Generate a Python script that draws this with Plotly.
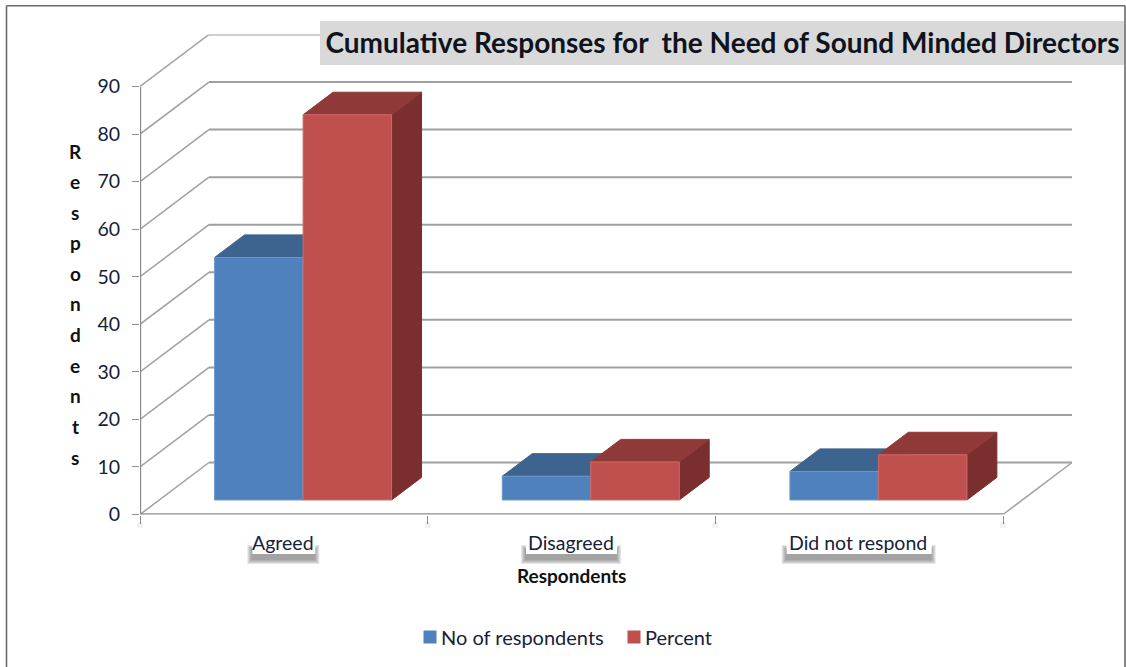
import plotly.graph_objects as go

# Chart data
categories = ["Agreed", "Disagreed", "Did not respond"]
no_of_respondents = [51, 5, 6]
percent = [81, 8, 9.5]
value_ticks = list(range(0, 100, 10))
series_names = ["No of respondents", "Percent"]
chart_title = "Cumulative Responses for\u00a0\u00a0the Need of Sound Minded Directors"
axis_title = "Respondents"

# Page and plot geometry, in pixels
W, H = 1126, 667
LEFT, BASE, TOP90 = 140.0, 514.5, 86.5
CAT_PX = 287.67
PX_PER_UNIT = (BASE - TOP90) / 90.0

# Oblique projection of the depth axis, in axis units
DEPTH_X = 69.0 / CAT_PX
DEPTH_Y = 52.0 / PX_PER_UNIT
BAR_FRONT, BAR_BACK = 0.279, 0.713
BAR_W = 88.5 / CAT_PX

X_MAX = 3 + DEPTH_X
Y_MAX = 90 + DEPTH_Y
RIGHT = LEFT + X_MAX * CAT_PX
TOP = BASE - Y_MAX * PX_PER_UNIT


def project(x, v, d):
    return x + d * DEPTH_X, v + d * DEPTH_Y


def polygon(points):
    xs, ys = [], []
    for x, v, d in points + points[:1]:
        px_, py_ = project(x, v, d)
        xs.append(px_)
        ys.append(py_)
    return xs + [None], ys + [None]


def box_faces(values, offset):
    """Front, top and right faces of a series of bars, as gap-separated polygons."""
    faces = {"front": ([], []), "top": ([], []), "right": ([], [])}
    for i, v in enumerate(values):
        x0 = i + 0.5 + offset * BAR_W
        x1 = x0 + BAR_W
        quads = {
            "front": [(x0, 0, BAR_FRONT), (x1, 0, BAR_FRONT), (x1, v, BAR_FRONT), (x0, v, BAR_FRONT)],
            "top": [(x0, v, BAR_FRONT), (x1, v, BAR_FRONT), (x1, v, BAR_BACK), (x0, v, BAR_BACK)],
            "right": [(x1, 0, BAR_FRONT), (x1, 0, BAR_BACK), (x1, v, BAR_BACK), (x1, v, BAR_FRONT)],
        }
        for name, quad in quads.items():
            xs, ys = polygon(quad)
            faces[name][0].extend(xs)
            faces[name][1].extend(ys)
    return faces


fig = go.Figure()

GRID = "#a0a0a0"
AXIS = "#8d8d8d"
TEXT = "#16213a"
FONT = "Lato, Carlito, 'Open Sans', sans-serif"


def add_line(xs, ys, color=GRID, width=2.0):
    fig.add_trace(go.Scatter(x=xs, y=ys, mode="lines", line=dict(color=color, width=width),
                             cliponaxis=False, showlegend=False, hoverinfo="skip"))


# Back wall rules and the diagonals running along the side wall
wall_x, wall_y, side_x, side_y = [], [], [], []
for v in value_ticks:
    bx0, by = project(0, v, 1)
    bx1, _ = project(3, v, 1)
    wall_x += [bx0, bx1, None]
    wall_y += [by, by, None]
    side_x += [0, bx0, None]
    side_y += [v, by, None]
add_line(wall_x, wall_y)
add_line(side_x, side_y, width=1.5)

# Floor edge on the right, then the two front axis lines
fx, fy = project(3, 0, 1)
add_line([3, fx], [0, fy], width=1.5)
add_line([0, 0], [0, 90], color=AXIS, width=2.4)
add_line([0, 3], [0, 0], color=AXIS, width=2.6)

# Three-dimensional bars, painted back to front
palette = [
    dict(front="#4f81bd", top="#3d638f", right="#35567c", edge="#6d97cb"),
    dict(front="#c0504d", top="#8f3a38", right="#7a2f2e", edge="#cf6b68"),
]
for values, offset, colors in zip([no_of_respondents, percent], [-1, 0], palette):
    faces = box_faces(values, offset)
    for face, edge in (("right", colors["right"]), ("top", colors["top"]), ("front", colors["edge"])):
        fig.add_trace(go.Scatter(
            x=faces[face][0], y=faces[face][1], mode="lines", fill="toself",
            fillcolor=colors[face], line=dict(color=edge, width=1),
            cliponaxis=False, showlegend=False, hoverinfo="skip"))

# Legend keys
for name, colors in zip(series_names, palette):
    fig.add_trace(go.Scatter(x=[None], y=[None], mode="markers", name=name,
                             marker=dict(symbol="square", size=13, color=colors["front"])))


def px(x):
    return x / W


def py(y):
    return 1 - y / H


shapes = []


def add_rect(x0, y0, x1, y1, fill):
    shapes.append(dict(type="rect", xref="paper", yref="paper", x0=px(x0), x1=px(x1),
                       y0=py(y1), y1=py(y0), fillcolor=fill, line_width=0, layer="above"))


# Outer frame, open at the bottom edge of the page
for x0, y0, x1, y1 in [(6.5, 5.7, 1125, 5.7), (6.5, 5.7, 6.5, 667), (1125, 5.7, 1125, 667)]:
    shapes.append(dict(type="line", xref="paper", yref="paper", x0=px(x0), x1=px(x1),
                       y0=py(y1), y1=py(y0), line=dict(color="#6a6a6a", width=1.6), layer="above"))

# Title band
add_rect(320, 21, 1124, 65, "#d9d9d9")

# Soft shadows under the x ticks
for i in range(4):
    tx = LEFT + i * CAT_PX
    add_rect(tx - 3, 522, tx + 3, 528, "rgba(0,0,0,0.05)")

annotations = []

# Category labels on white plates with a drop shadow
plate_widths = [63, 91, 145]
for i, (label, width) in enumerate(zip(categories, plate_widths)):
    cx = LEFT + (i + 0.5) * CAT_PX
    x0, x1 = cx - width / 2, cx + width / 2
    for spread in (4, 3, 2, 1, 0):
        add_rect(x0 - 1 - spread, 549 - spread, x1 + spread, 560 + spread, "rgba(100,100,100,0.16)")
    add_rect(x0, 534, x1, 554, "#ffffff")
    annotations.append(dict(x=px(cx - 1), xref="paper", y=py(542), yref="paper", text=label,
                            showarrow=False, xanchor="center", yanchor="middle",
                            font=dict(family=FONT, size=19.5, color=TEXT)))

# X axis title
annotations.append(dict(x=px(571), xref="paper", y=py(575), yref="paper",
                        text=f"<b>{axis_title}</b>", showarrow=False, xanchor="center", yanchor="middle",
                        font=dict(family=FONT, size=19, color="#111111")))

# Y axis title, one letter per row
for i, letter in enumerate(axis_title):
    annotations.append(dict(x=px(75), xref="paper", y=py(151 + i * 30.6), yref="paper",
                            text=f"<b>{letter}</b>", showarrow=False, xanchor="center", yanchor="middle",
                            font=dict(family=FONT, size=19, color="#111111")))

fig.update_layout(
    width=W, height=H,
    margin=dict(l=0, r=0, t=0, b=0, autoexpand=False),
    autosize=False,
    paper_bgcolor="#ffffff",
    plot_bgcolor="rgba(0,0,0,0)",
    font=dict(family=FONT, size=20, color=TEXT),
    title=dict(text=f"<b>{chart_title}</b>", x=px(722.5), xref="paper", xanchor="center",
               y=py(43), yref="paper", yanchor="middle",
               font=dict(family=FONT, size=28, color="#10131c")),
    xaxis=dict(domain=[px(LEFT), px(RIGHT)], range=[0, X_MAX],
               tickvals=[0, 1, 2, 3], ticks="outside", ticklen=8, tickwidth=1.2, tickcolor=AXIS,
               showticklabels=False, showgrid=False, zeroline=False, showline=False),
    yaxis=dict(domain=[py(BASE), py(TOP)], range=[0, Y_MAX],
               tickvals=value_ticks, ticks="outside", ticklen=7, tickwidth=1.2, tickcolor=AXIS,
               ticklabelstandoff=8, tickfont=dict(family=FONT, size=19.5, color=TEXT),
               showgrid=False, zeroline=False, showline=False),
    legend=dict(orientation="h", x=px(410), xanchor="left", y=py(637), yanchor="middle",
                font=dict(family=FONT, size=20, color=TEXT), entrywidth=159, entrywidthmode="pixels",
                bgcolor="rgba(0,0,0,0)"),
    shapes=shapes,
    annotations=annotations,
)

# Tighten the gap between the legend keys and their labels
legend_js = "document.querySelectorAll('.legendtext').forEach(t => t.setAttribute('x', 31));"
fig.write_html("out.html", post_script=legend_js)
